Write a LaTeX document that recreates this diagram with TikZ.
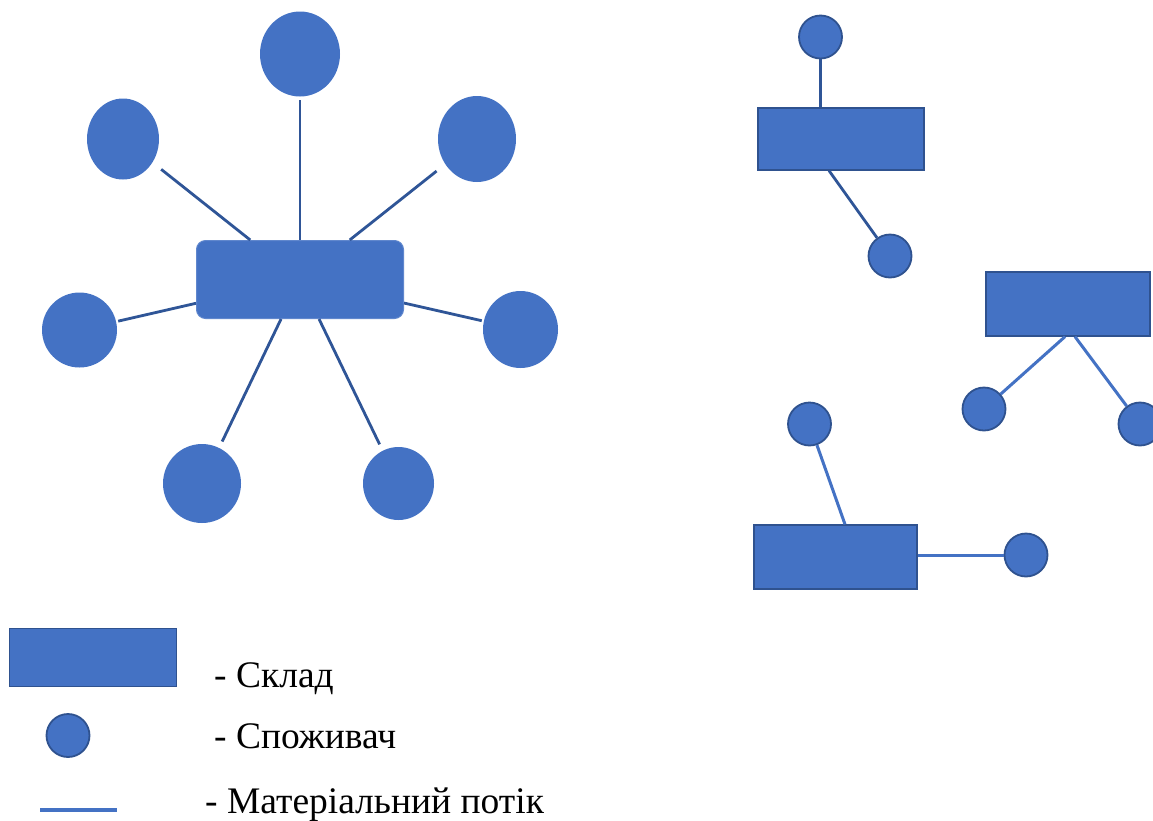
\documentclass[tikz,border=0pt]{standalone}
\usepackage{fontspec}
\setmainfont{Liberation Serif}
\usetikzlibrary{shapes.geometric,calc}
\definecolor{fillblue}{HTML}{4472C4}
\definecolor{lineblue}{HTML}{2F5597}
\definecolor{edgeblue}{HTML}{2F528F}

\begin{document}
\begin{tikzpicture}[x=1pt, y=-1pt,
  bigstore/.style={rounded corners=9pt, fill=fillblue, draw=fillblue!85!white, line width=1pt, minimum width=207pt, minimum height=78pt, inner sep=0pt},
  store/.style={fill=fillblue, draw=edgeblue, line width=1.3pt, minimum height=62pt, inner sep=0pt},
  bigcons/.style={ellipse, fill=fillblue, inner sep=0pt},
  cons/.style={circle, fill=fillblue, draw=edgeblue, line width=1.8pt, minimum size=43pt, inner sep=0pt},
  flow/.style={draw=lineblue, line width=2.8pt},
  lightflow/.style={draw=fillblue, line width=3pt},
  legtext/.style={anchor=base west, inner sep=0pt, font=\fontsize{37.5}{42}\selectfont}]
\path[use as bounding box, fill=white] (0,0) rectangle (1153,820);

% star layout
\node[bigstore] (sk0) at (300,279.5) {};
\node[bigcons, minimum width=80pt, minimum height=85pt] (c1) at (300,54) {};
\node[bigcons, minimum width=72pt, minimum height=81pt] (c2) at (123,139) {};
\node[bigcons, minimum width=78pt, minimum height=86pt] (c3) at (477,139) {};
\node[bigcons, minimum width=75pt, minimum height=75pt] (c4) at (79.5,330) {};
\node[bigcons, minimum width=75pt, minimum height=77pt] (c5) at (520.5,329.5) {};
\node[bigcons, minimum width=78pt, minimum height=79pt] (c6) at (202,483.5) {};
\node[bigcons, minimum width=71pt, minimum height=73pt] (c7) at (398.5,483.5) {};
\draw[flow, shorten >=3pt] (sk0) -- (c1);
\draw[flow, shorten >=11pt] (sk0) -- (c2);
\draw[flow, shorten >=11pt] (sk0) -- (c3);
\draw[flow, shorten >=2pt] (sk0) -- (c4);
\draw[flow, shorten >=2pt] (sk0) -- (c5);
\draw[flow, shorten >=7pt] (sk0) -- (c6);
\draw[flow, shorten >=7pt] (sk0) -- (c7);

% small warehouses
\node[store, minimum width=166pt] (skA) at (841,139) {};
\node[cons] (a1) at (820.5,37) {};
\node[cons] (a2) at (890,256) {};
\draw[flow] (a1) -- (a1 |- skA.north);
\draw[flow] ($(skA.south)+(-12,0)$) -- (a2);

\node[store, minimum width=164pt, minimum height=64pt] (skB) at (1068,304) {};
\node[cons] (b1) at (984,409) {};
\node[cons] (b2) at (1140,424) {};
\draw[lightflow] ($(skB.south)+(-3,0)$) -- (b1);
\draw[lightflow] ($(skB.south)+(7,0)$) -- (b2);

\node[store, minimum width=163pt, minimum height=64pt] (skC) at (835.5,557) {};
\node[cons] (d1) at (809.5,424) {};
\node[cons] (d2) at (1026,555) {};
\draw[lightflow] (d1) -- ($(skC.north)+(9.5,0)$);
\draw[lightflow] (d2 -| skC.east) -- (d2);

% legend
\node[store, draw=edgeblue, line width=0.8pt, minimum width=167pt, minimum height=58pt] (lg1) at (92.5,657) {};
\node[cons] (lg2) at (68,735.5) {};
\coordinate (lg3a) at (40,810);
\coordinate (lg3b) at (117,810);
\draw[draw=fillblue, line width=4pt] (lg3a) -- (lg3b);
\node[legtext] (t1) at (214,687) {- Склад};
\node[legtext] (t2) at (214,748) {- Споживач};
\node[legtext] (t3) at (205,813) {- Матеріальний потік};
\end{tikzpicture}
\end{document}
